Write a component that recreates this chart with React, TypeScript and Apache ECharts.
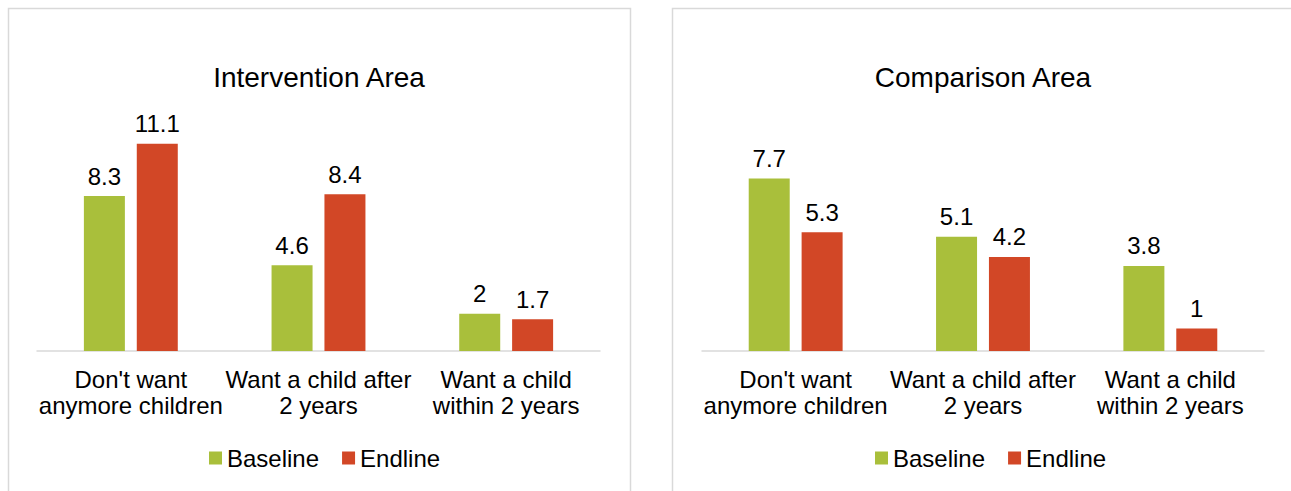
import { useEffect, useRef } from "react";
import * as echarts from "echarts";

const categories = [
  "Don't want\nanymore children",
  "Want a child after\n2 years",
  "Want a child\nwithin 2 years",
];
const seriesNames = ["Baseline", "Endline"];
const panelTitles = ["Intervention Area", "Comparison Area"];
const interventionBaseline = [8.3, 4.6, 2];
const interventionEndline = [11.1, 8.4, 1.7];
const comparisonBaseline = [7.7, 5.1, 3.8];
const comparisonEndline = [5.3, 4.2, 1];
const axisMax = [12, 10];

const FONT = "'Liberation Sans', Arial, sans-serif";
const GREEN = "#A9BF3B";
const RED = "#D24726";

export default function App() {
  const ref = useRef<HTMLDivElement>(null);
  useEffect(() => {
    if (!ref.current) return;
    const chart = echarts.init(ref.current, null, { renderer: "svg" });
    const grids = [
      { left: 37, top: 127, width: 563, height: 224 },
      { left: 702, top: 127, width: 562, height: 224 },
    ];
    const panels = [
      { x: 8.5, center: 319 },
      { x: 672.5, center: 983 },
    ];
    const data = [
      [interventionBaseline, interventionEndline],
      [comparisonBaseline, comparisonEndline],
    ];
    const label = {
      show: true,
      position: "top" as const,
      distance: 8,
      fontSize: 24,
      fontFamily: FONT,
      color: "#000",
    };
    const series: any[] = [];
    data.forEach((pair, gi) => {
      pair.forEach((vals, si) => {
        series.push({
          type: "bar",
          name: seriesNames[si],
          xAxisIndex: gi,
          yAxisIndex: gi,
          data: vals,
          barWidth: 41,
          barGap: "29%",
          itemStyle: { color: si === 0 ? GREEN : RED },
          label,
        });
      });
    });
    chart.setOption({
      animation: false,
      backgroundColor: "#fff",
      textStyle: { fontFamily: FONT },
      grid: grids,
      xAxis: grids.map((_, gi) => ({
        type: "category",
        gridIndex: gi,
        data: categories,
        axisLine: { lineStyle: { color: "#d9d9d9", width: 1.5 } },
        axisTick: { show: false },
        axisLabel: {
          interval: 0,
          fontSize: 24,
          lineHeight: 26,
          color: "#000",
          fontFamily: FONT,
          margin: 15,
        },
      })),
      yAxis: axisMax.map((m, gi) => ({
        type: "value",
        gridIndex: gi,
        min: 0,
        max: m,
        show: false,
      })),
      legend: [
        { left: 209, top: 446 },
        { left: 875, top: 446 },
      ].map((p) => ({
        ...p,
        padding: 0,
        data: seriesNames,
        icon: "rect",
        itemWidth: 13,
        itemHeight: 13,
        itemGap: 23,
        selectedMode: false,
        textStyle: { fontSize: 24, color: "#000", fontFamily: FONT },
      })),
      graphic: [
        ...panels.map((p) => ({
          type: "rect",
          shape: { x: p.x, y: 8.5, width: 622, height: 520 },
          style: { fill: "none", stroke: "#d9d9d9", lineWidth: 1.5 },
          silent: true,
        })),
        ...panels.map((p, i) => ({
          type: "text",
          x: p.center,
          y: 77,
          style: {
            text: panelTitles[i],
            fontSize: 28,
            fontFamily: FONT,
            fill: "#000",
            align: "center",
            verticalAlign: "middle",
          },
        })),
      ],
      series,
    });
    return () => chart.dispose();
  }, []);
  return (
    <div
      ref={ref}
      style={{ position: "absolute", left: 0, top: 0, width: 1291, height: 491 }}
    />
  );
}
